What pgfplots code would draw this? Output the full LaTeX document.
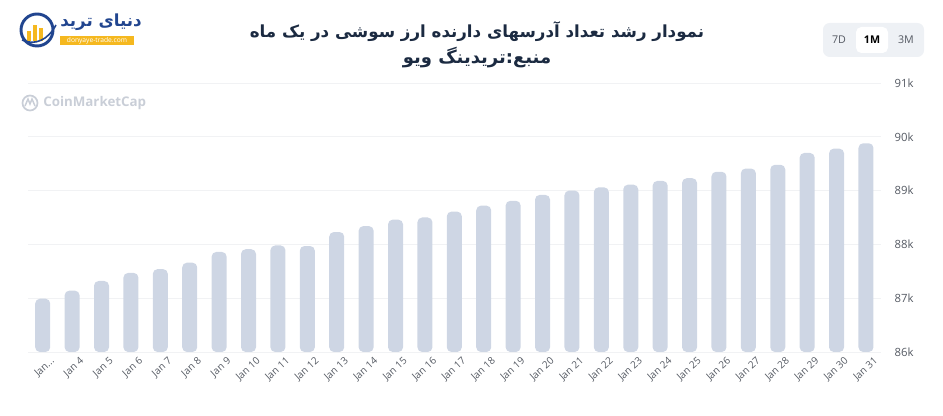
\documentclass[border=0pt]{standalone}
\usepackage{fontspec}
\setmainfont{Open Sans}
\newfontfamily\arabicfont[Script=Arabic]{DejaVu Sans}
\TeXXeTstate=1
\usepackage{pgfplots}
\usepackage{pgfplotstable}
\pgfplotsset{compat=1.18}
\definecolor{barc}{HTML}{CED6E4}
\definecolor{gridc}{HTML}{F1F2F4}
\definecolor{labelc}{HTML}{555A63}
\definecolor{titlec}{HTML}{1B2A41}
\definecolor{logoblue}{HTML}{21458F}
\definecolor{logoyellow}{HTML}{F5B81F}
\definecolor{cmcgray}{HTML}{C9CED7}
\definecolor{btnbg}{HTML}{EEF1F5}
\pgfplotstableread{
idx label value
0 {Jan...} 86.99
1 {Jan 4} 87.14
2 {Jan 5} 87.32
3 {Jan 6} 87.47
4 {Jan 7} 87.54
5 {Jan 8} 87.66
6 {Jan 9} 87.86
7 {Jan 10} 87.91
8 {Jan 11} 87.98
9 {Jan 12} 87.97
10 {Jan 13} 88.23
11 {Jan 14} 88.34
12 {Jan 15} 88.46
13 {Jan 16} 88.50
14 {Jan 17} 88.61
15 {Jan 18} 88.72
16 {Jan 19} 88.81
17 {Jan 20} 88.92
18 {Jan 21} 89.00
19 {Jan 22} 89.06
20 {Jan 23} 89.11
21 {Jan 24} 89.18
22 {Jan 25} 89.23
23 {Jan 26} 89.35
24 {Jan 27} 89.41
25 {Jan 28} 89.48
26 {Jan 29} 89.70
27 {Jan 30} 89.78
28 {Jan 31} 89.88
}\datatable
\begin{document}
\begin{tikzpicture}
\path[use as bounding box] (0,0) rectangle (707.25pt,312pt);
\begin{axis}[
  at={(21pt,48pt)}, anchor=south west,
  scale only axis, width=639.5pt, height=201.75pt,
  xmin=-0.5, xmax=28.5, ymin=86, ymax=91,
  ybar, bar width=11.25pt,
  axis line style={draw=none},
  major tick length=0pt,
  ymajorgrids, grid style={color=gridc, line width=0.7pt},
  ytick={86,87,88,89,90,91},
  yticklabel pos=right,
  yticklabel={\pgfmathprintnumber{\tick}k},
  yticklabel style={font=\fontsize{8.5}{10}\selectfont, color=labelc, anchor=west, xshift=7pt},
  xtick=data,
  xticklabels from table={\datatable}{label},
  xticklabel style={rotate=42, anchor=north east, font=\fontsize{7.5}{8}\selectfont, color=labelc, inner sep=1pt, xshift=3pt, yshift=-5pt},
  /pgf/number format/assume math mode=true,
  clip=true,
]
\addplot[fill=barc, draw=none, rounded corners=3.5pt] table[x=idx, y=value] {\datatable};
\end{axis}
\begin{scope}[x=0.75pt, y=-0.75pt, yshift=312pt]
  % title
  \node[font=\arabicfont\bfseries\fontsize{12.5}{15}\selectfont, color=titlec] at (477,32) {\beginR نمودار رشد تعداد آدرسهای دارنده ارز سوشی در یک ماه\endR};
  \node[font=\arabicfont\bfseries\fontsize{13.5}{16}\selectfont, color=titlec] at (477,58) {\beginR منبع:تریدینگ ویو\endR};
  % logo
  \fill[white] (37,30) circle (16);
  \fill[logoyellow] (27,41) rectangle (31,31);
  \fill[logoyellow] (33,41) rectangle (37,25);
  \fill[logoyellow] (39,41) rectangle (43,28);
  \draw[logoblue, line width=2.2pt] (37,30) circle (16);
  \draw[logoblue, line width=1.2pt] (22,40) .. controls (35,46) and (48,40) .. (56,25);
  \node[anchor=west, font=\arabicfont\bfseries\fontsize{12.5}{14}\selectfont, color=logoblue, inner sep=0pt] at (60,22) {\beginR دنیای ترید\endR};
  \fill[logoyellow] (60,36) rectangle (134,45);
  \node[font=\fontsize{5}{5}\selectfont, color=white, inner sep=0pt] at (97,40.5) {donyaye-trade.com};
  % watermark
  \draw[cmcgray, line width=1.3pt] (30,103) circle (7.5);
  \draw[cmcgray, line width=1.1pt] (25,106) -- (28,99) -- (30,104) -- (32,99) -- (35,106);
  \node[anchor=west, font=\bfseries\fontsize{10}{12}\selectfont, color=cmcgray, inner sep=0pt] at (43,103) {CoinMarketCap};
  % range buttons
  \fill[btnbg, rounded corners=5pt] (823,23) rectangle (924,57);
  \fill[white, rounded corners=4pt] (856,27) rectangle (888,53);
  \node[font=\fontsize{8}{9}\selectfont, color=labelc] at (839,40) {7D};
  \node[font=\bfseries\fontsize{8}{9}\selectfont, color=black] at (872,40) {1M};
  \node[font=\fontsize{8}{9}\selectfont, color=labelc] at (906,40) {3M};
\end{scope}
\end{tikzpicture}
\end{document}
